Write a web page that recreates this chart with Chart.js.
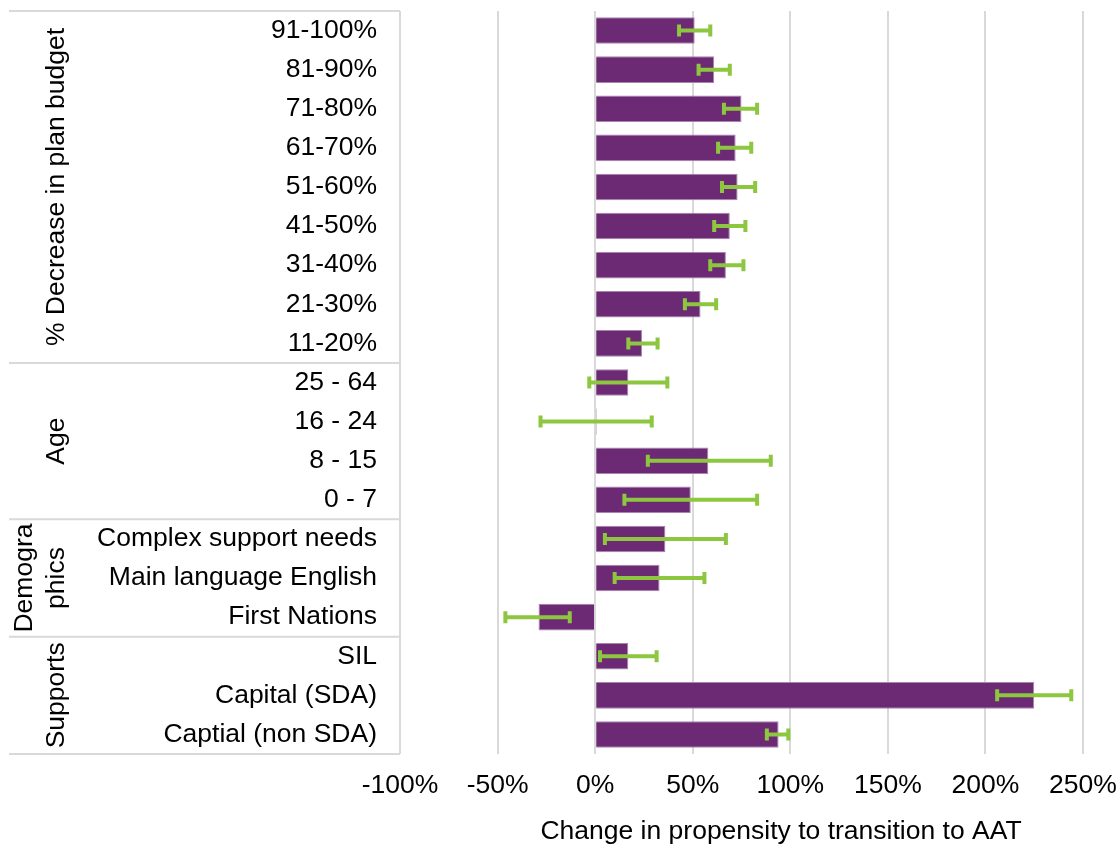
<!DOCTYPE html>
<html>
<head>
<meta charset="utf-8">
<script src="https://cdn.jsdelivr.net/npm/chart.js@4/dist/chart.umd.min.js"></script>
<style>
  html, body { margin: 0; padding: 0; background: #fff; }
</style>
</head>
<body>
<canvas id="chart" width="1120" height="845"></canvas>
<script>
// Row labels, top to bottom
const categories = [
  "91-100%", "81-90%", "71-80%", "61-70%", "51-60%", "41-50%", "31-40%", "21-30%", "11-20%",
  "25 - 64", "16 - 24", "8 - 15", "0 - 7",
  "Complex support needs", "Main language English", "First Nations",
  "SIL", "Capital (SDA)", "Captial (non SDA)"
];
// Estimated change (%) and confidence interval ends
const values  = [51, 61, 75, 72, 73, 69, 67, 54, 24, 17, 0.8, 58, 49, 36, 33, -29, 17, 225, 94];
const errLow  = [43, 53, 66, 63, 65, 61, 59, 46, 17, -3, -28, 27, 15, 5, 10, -46, 2.5, 206, 88];
const errHigh = [59, 69, 83, 80, 82, 77, 76, 62, 32, 37, 29, 90, 83, 67, 56, -13, 31.5, 244, 99];

// Row groups (label lines) and how many rows each covers
const groupNames = [["% Decrease in plan budget"], ["Age"], ["Demogra", "phics"], ["Supports"]];
const groupSizes = [9, 4, 3, 3];

const xTicks = [-100, -50, 0, 50, 100, 150, 200, 250];
const axisTitle = "Change in propensity to transition to AAT";

const FONT = '"Liberation Sans", Arial, sans-serif';
const FSIZE = 26.5;
const TEXT = "#000";
const LINE = "#d9d9d9";

// Draws the grouped label table on the left, error bars and the axis title
const extrasPlugin = {
  id: "extras",
  afterDatasetsDraw(chart) {
    const ctx = chart.ctx;
    const xs = chart.scales.x, ys = chart.scales.y;
    ctx.save();
    ctx.strokeStyle = "#8DC63F";
    ctx.lineWidth = 4;
    ctx.lineCap = "butt";
    values.forEach((v, i) => {
      const py = ys.getPixelForValue(i);
      const x1 = xs.getPixelForValue(errLow[i]);
      const x2 = xs.getPixelForValue(errHigh[i]);
      ctx.beginPath();
      ctx.moveTo(x1, py); ctx.lineTo(x2, py);
      ctx.moveTo(x1, py - 6); ctx.lineTo(x1, py + 6);
      ctx.moveTo(x2, py - 6); ctx.lineTo(x2, py + 6);
      ctx.stroke();
    });
    ctx.restore();
  },
  afterDraw(chart) {
    const ctx = chart.ctx;
    const area = chart.chartArea;
    const rowH = (area.bottom - area.top) / categories.length;
    ctx.save();

    // horizontal rules of the label table
    ctx.strokeStyle = LINE;
    ctx.lineWidth = 2;
    let row = 0;
    const bounds = [0];
    groupSizes.forEach(n => { row += n; bounds.push(row); });
    bounds.forEach(b => {
      const py = area.top + b * rowH;
      ctx.beginPath();
      ctx.moveTo(9, py); ctx.lineTo(area.left, py);
      ctx.stroke();
    });

    // rotated group names
    ctx.fillStyle = TEXT;
    ctx.font = FSIZE + "px " + FONT;
    ctx.textAlign = "center";
    ctx.textBaseline = "middle";
    groupNames.forEach((lines, g) => {
      const cy = area.top + (bounds[g] + bounds[g + 1]) / 2 * rowH;
      lines.forEach((txt, k) => {
        const cx = 57 - (lines.length - 1 - k) * 32;
        ctx.save();
        ctx.translate(cx, cy);
        ctx.rotate(-Math.PI / 2);
        ctx.fillText(txt, 0, 0);
        ctx.restore();
      });
    });

    // x axis title
    ctx.fillText(axisTitle, 781, 832);
    ctx.restore();
  }
};

new Chart(document.getElementById("chart"), {
  type: "bar",
  data: {
    labels: categories,
    datasets: [{
      data: values,
      backgroundColor: "#6B2A73",
      borderColor: "#A983B0",
      borderWidth: 1,
      barPercentage: 0.68,
      categoryPercentage: 1
    }]
  },
  options: {
    indexAxis: "y",
    responsive: false,
    animation: false,
    layout: { padding: { top: 11, right: 37, left: 0, bottom: 0 } },
    plugins: { legend: { display: false }, tooltip: { enabled: false } },
    scales: {
      x: {
        min: -100,
        max: 250,
        afterBuildTicks: s => { s.ticks = xTicks.map(v => ({ value: v })); },
        afterFit: s => { s.height = 91; s.paddingLeft = 0; s.paddingRight = 0; },
        ticks: {
          callback: v => v + "%",
          font: { family: FONT, size: FSIZE },
          color: TEXT,
          padding: 16,
          maxRotation: 0
        },
        grid: { color: LINE, lineWidth: 2, drawTicks: false },
        border: { display: false }
      },
      y: {
        afterFit: s => { s.width = 400; s.paddingTop = 0; s.paddingBottom = 0; },
        ticks: {
          font: { family: FONT, size: FSIZE },
          color: TEXT,
          padding: 23,
          autoSkip: false
        },
        grid: { display: false, drawTicks: false },
        border: { display: false }
      }
    }
  },
  plugins: [extrasPlugin]
});
</script>
</body>
</html>
